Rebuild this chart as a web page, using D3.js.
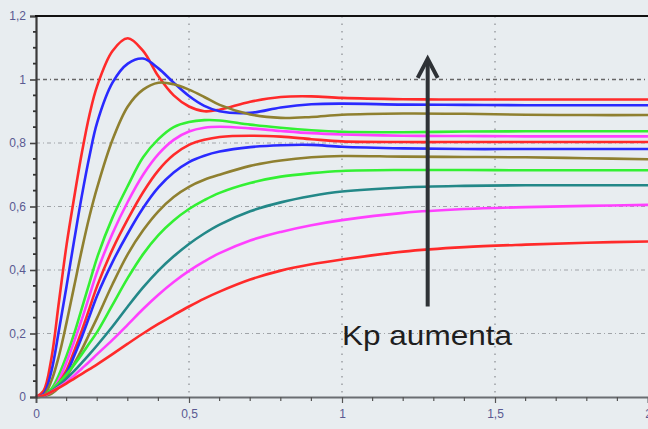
<!DOCTYPE html>
<html>
<head>
<meta charset="utf-8">
<script src="https://cdn.jsdelivr.net/npm/d3@7"></script>
<style>
  html, body { margin: 0; padding: 0; background: #e8edf0; }
  svg { display: block; }
</style>
</head>
<body>
<script>
// time samples (s)
const T = [0, 0.025, 0.05, 0.075, 0.1, 0.125, 0.15, 0.175, 0.2, 0.25, 0.3, 0.35, 0.4, 0.45, 0.5, 0.55, 0.6, 0.7, 0.8, 0.9, 1.0, 1.2, 1.4, 1.6, 1.8, 2.0];

// responses, from highest Kp to lowest Kp
const r1  = [0, 0.02, 0.12, 0.30, 0.48, 0.63, 0.77, 0.89, 0.98, 1.09, 1.13, 1.09, 1.01, 0.95, 0.915, 0.90, 0.905, 0.93, 0.945, 0.947, 0.942, 0.938, 0.937, 0.937, 0.937, 0.937];
const r2  = [0, 0.01, 0.08, 0.21, 0.35, 0.495, 0.635, 0.76, 0.865, 0.99, 1.05, 1.066, 1.035, 0.99, 0.948, 0.917, 0.90, 0.895, 0.912, 0.922, 0.924, 0.921, 0.92, 0.919, 0.919, 0.919];
const r3  = [0, 0.005, 0.05, 0.13, 0.235, 0.35, 0.465, 0.57, 0.66, 0.81, 0.915, 0.968, 0.99, 0.985, 0.968, 0.945, 0.92, 0.89, 0.879, 0.882, 0.889, 0.893, 0.892, 0.889, 0.888, 0.888];
const r4  = [0, 0.004, 0.025, 0.07, 0.13, 0.20, 0.28, 0.36, 0.44, 0.565, 0.665, 0.755, 0.812, 0.85, 0.866, 0.872, 0.871, 0.858, 0.848, 0.84, 0.835, 0.834, 0.836, 0.837, 0.837, 0.837];
const r5  = [0, 0.004, 0.02, 0.055, 0.11, 0.175, 0.245, 0.32, 0.395, 0.515, 0.615, 0.70, 0.765, 0.81, 0.836, 0.848, 0.851, 0.846, 0.838, 0.831, 0.827, 0.823, 0.822, 0.821, 0.821, 0.821];
const r6  = [0, 0.003, 0.015, 0.045, 0.085, 0.145, 0.21, 0.28, 0.35, 0.465, 0.56, 0.645, 0.714, 0.763, 0.794, 0.81, 0.819, 0.823, 0.82, 0.812, 0.805, 0.803, 0.803, 0.803, 0.803, 0.803];
const r7  = [0, 0.003, 0.012, 0.038, 0.075, 0.13, 0.19, 0.255, 0.32, 0.425, 0.515, 0.595, 0.66, 0.707, 0.74, 0.76, 0.773, 0.787, 0.793, 0.794, 0.788, 0.783, 0.781, 0.781, 0.781, 0.781];
const r8  = [0, 0.003, 0.01, 0.03, 0.065, 0.105, 0.15, 0.20, 0.25, 0.355, 0.45, 0.525, 0.585, 0.63, 0.662, 0.684, 0.70, 0.728, 0.745, 0.755, 0.759, 0.757, 0.756, 0.755, 0.752, 0.749];
const r9  = [0, 0.004, 0.022, 0.045, 0.072, 0.102, 0.135, 0.17, 0.205, 0.29, 0.375, 0.45, 0.51, 0.556, 0.592, 0.62, 0.643, 0.674, 0.694, 0.705, 0.712, 0.715, 0.715, 0.714, 0.714, 0.714];
const r10 = [0, 0.004, 0.018, 0.037, 0.058, 0.082, 0.108, 0.135, 0.163, 0.222, 0.285, 0.345, 0.398, 0.443, 0.482, 0.515, 0.543, 0.585, 0.613, 0.633, 0.647, 0.66, 0.665, 0.667, 0.667, 0.667];
const r11 = [0, 0.004, 0.016, 0.031, 0.048, 0.068, 0.09, 0.112, 0.135, 0.18, 0.228, 0.277, 0.322, 0.362, 0.397, 0.427, 0.453, 0.493, 0.52, 0.541, 0.557, 0.58, 0.592, 0.598, 0.602, 0.605];
const r12 = [0, 0.005, 0.016, 0.029, 0.043, 0.058, 0.073, 0.088, 0.103, 0.135, 0.168, 0.20, 0.23, 0.258, 0.285, 0.31, 0.332, 0.37, 0.398, 0.418, 0.433, 0.458, 0.472, 0.48, 0.486, 0.49];

const seriesValues = [r1, r2, r3, r4, r5, r6, r7, r8, r9, r10, r11, r12];
const seriesColors = ["#ff2a2a", "#2a2aff", "#8f8030", "#33f033", "#ff40ff", "#ff2a2a", "#2a2aff", "#8f8030", "#33f033", "#238888", "#ff40ff", "#ff2a2a"];

const xTicks = [0, 0.5, 1, 1.5, 2];
const xTickLabels = ["0", "0,5", "1", "1,5", "2"];
const yTicks = [0, 0.2, 0.4, 0.6, 0.8, 1, 1.2];
const yTickLabels = ["0", "0,2", "0,4", "0,6", "0,8", "1", "1,2"];
const annotation = "Kp aumenta";

const W = 648, H = 429;
const svg = d3.select("body").append("svg").attr("width", W).attr("height", H);
svg.append("rect").attr("width", W).attr("height", H).attr("fill", "#e8edf0");

const x = d3.scaleLinear().domain([0, 2]).range([36, 648]);
const y = d3.scaleLinear().domain([0, 1.2]).range([397, 16]);

// grid: horizontal
svg.append("g").selectAll("line").data(yTicks.filter(v => v > 0 && v < 1.2)).join("line")
  .attr("x1", x(0)).attr("x2", W)
  .attr("y1", d => y(d)).attr("y2", d => y(d))
  .attr("stroke", d => d === 1 ? "#666" : "#a0a4a8")
  .attr("stroke-width", d => d === 1 ? 1.6 : 1.2)
  .attr("stroke-dasharray", d => d === 1 ? "4,3,4,3,1,3" : "4,3,1,3");
// grid: vertical
svg.append("g").selectAll("line").data(xTicks.filter(v => v > 0 && v < 2)).join("line")
  .attr("x1", d => x(d)).attr("x2", d => x(d))
  .attr("y1", y(1.2)).attr("y2", y(0))
  .attr("stroke", "#9a9ea2").attr("stroke-width", 1.5)
  .attr("stroke-dasharray", "1.5,6");

// curves
const line = d3.line().x((d, i) => x(T[i])).y(d => y(d)).curve(d3.curveCatmullRom.alpha(0.5));
svg.append("g").selectAll("path").data(seriesValues).join("path")
  .attr("d", d => line(d))
  .attr("fill", "none")
  .attr("stroke", (d, i) => seriesColors[i])
  .attr("stroke-width", 2.6)
  .attr("stroke-linejoin", "round");

// axes
const xAxis = d3.axisBottom(x).tickValues(xTicks).tickFormat((d, i) => xTickLabels[i]).tickSize(6).tickPadding(6);
const gx = svg.append("g").attr("transform", `translate(0,${y(0)})`).call(xAxis);
gx.select(".domain").attr("stroke", "#6a6e72").attr("stroke-width", 2);
gx.selectAll(".tick line").attr("stroke", "#555").attr("stroke-width", 1.2);
gx.selectAll(".tick text").attr("fill", "#5a5a92").attr("font-family", "Arial, 'Liberation Sans', sans-serif").attr("font-size", 12);
const xMinor = d3.range(1, 20).map(i => i / 10).filter(v => Math.abs(v * 2 - Math.round(v * 2)) > 1e-6);
svg.append("g").selectAll("line").data(xMinor).join("line")
  .attr("x1", d => x(d)).attr("x2", d => x(d))
  .attr("y1", y(0)).attr("y2", y(0) + 4)
  .attr("stroke", "#555").attr("stroke-width", 1.2);

const yAxis = d3.axisLeft(y).tickValues(yTicks).tickFormat((d, i) => yTickLabels[i]).tickSize(6).tickPadding(4);
const gy = svg.append("g").attr("transform", `translate(${x(0)},0)`).call(yAxis);
gy.select(".domain").attr("stroke", "#3a3a3a").attr("stroke-width", 2.2);
gy.selectAll(".tick line").attr("stroke", "#444").attr("stroke-width", 1.6);
gy.selectAll(".tick text").attr("fill", "#5a5a92").attr("font-family", "Arial, 'Liberation Sans', sans-serif").attr("font-size", 12);
const yMinor = d3.range(1, 24).map(i => i * 0.05).filter(v => Math.abs(v * 5 - Math.round(v * 5)) > 1e-6);
svg.append("g").selectAll("line").data(yMinor).join("line")
  .attr("x1", x(0) - 3).attr("x2", x(0))
  .attr("y1", d => y(d)).attr("y2", d => y(d))
  .attr("stroke", "#333").attr("stroke-width", 1.8);

// top border
svg.append("line").attr("x1", x(0) - 1).attr("x2", W).attr("y1", y(1.2)).attr("y2", y(1.2))
  .attr("stroke", "#111").attr("stroke-width", 2.2);

// arrow annotation
const ax = x(1.28);
svg.append("line").attr("x1", ax).attr("x2", ax).attr("y1", y(0.285)).attr("y2", y(1.055))
  .attr("stroke", "#2e3236").attr("stroke-width", 4);
svg.append("path")
  .attr("d", `M${ax - 10},${y(1.005)} L${ax},${y(1.065)} L${ax + 10},${y(1.005)}`)
  .attr("fill", "none").attr("stroke", "#2e3236").attr("stroke-width", 4)
  .attr("stroke-linejoin", "miter").attr("stroke-linecap", "butt");

svg.append("text").attr("x", 342).attr("y", 345)
  .attr("font-family", "Arial, 'Liberation Sans', sans-serif").attr("font-size", 28)
  .attr("fill", "#1e1e1e")
  .attr("textLength", 170).attr("lengthAdjust", "spacingAndGlyphs")
  .text(annotation);
</script>
</body>
</html>
